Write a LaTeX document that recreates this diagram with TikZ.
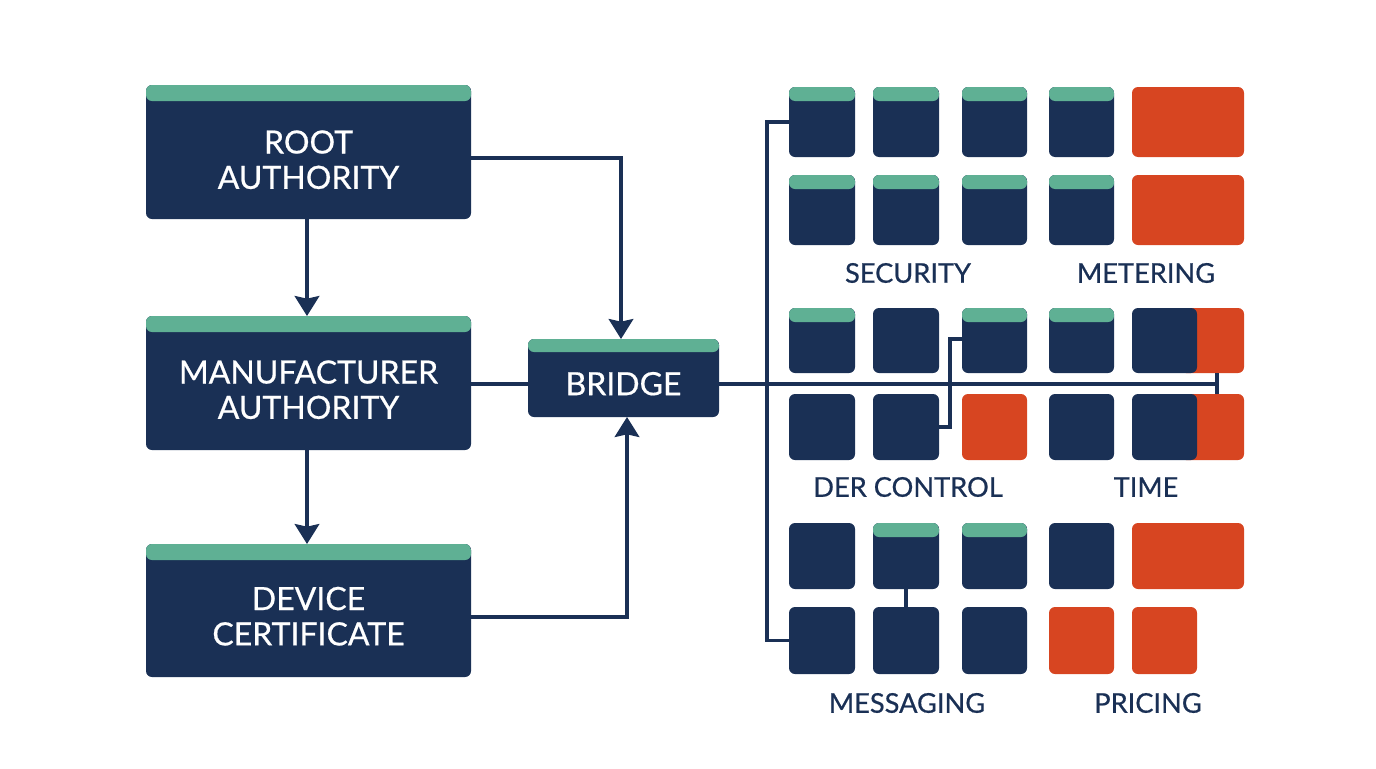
\documentclass[tikz,border=0pt]{standalone}
\usepackage{fontspec}
\setmainfont{Lato}
\newfontfamily\lblf{Lato}[FakeBold=0.6]
\usetikzlibrary{arrows.meta}
\definecolor{navy}{HTML}{1A3055}
\definecolor{mint}{HTML}{5FB094}
\definecolor{rust}{HTML}{D74521}
\tikzset{
  tile/.style={fill=navy,rounded corners=4.5pt,inner sep=0pt,outer sep=0pt,text=white,align=center},
  redtile/.style={tile,fill=rust},
  hdr/.style={path picture={\fill[mint] (path picture bounding box.north west) rectangle ([yshift=-#1*0.75pt]path picture bounding box.north east);}},
  grouplabel/.style={text=navy,font=\lblf\fontsize{20.4pt}{24pt}\selectfont,inner sep=0pt},
  wire/.style={draw=navy,line width=2.4pt},
  arrowwire/.style={wire,-{Stealth[length=15pt,width=18.5pt,inset=2pt]}}
}
\newcommand\gcell[6]{\node[#1,minimum width={(#5-#3)*0.75pt},minimum height={(#6-#4)*0.75pt}] (#2) at ({(#3+#5)/2},{(#4+#6)/2})}
\newcommand\biglbl[2]{{\lblf\fontsize{24pt}{25.5pt}\selectfont\raisebox{#1}[0pt][0pt]{\begin{tabular}{@{}c@{}}#2\end{tabular}}}}
\begin{document}
\begin{tikzpicture}[x=0.75pt,y=-0.75pt]
\useasboundingbox (0,0) rectangle (1376,768);
% main boxes
\gcell{tile,hdr=16}{root}{146}{85}{471}{219} {\biglbl{-15.5pt}{ROOT\\[1pt]AUTHORITY}};
\gcell{tile,hdr=16}{mfg}{146}{316}{471}{450} {\biglbl{-14.75pt}{MANUFACTURER\\[1pt]AUTHORITY}};
\gcell{tile,hdr=16}{dev}{146}{544}{471}{677} {\biglbl{-14pt}{DEVICE\\[1pt]CERTIFICATE}};
\gcell{tile,hdr=13}{bridge}{528}{339}{719}{417} {\biglbl{-14pt}{BRIDGE}};
% grid rows 1-2
\gcell{tile,hdr=14}{a1}{789}{87}{855}{157} {};
\gcell{tile,hdr=14}{a2}{873}{87}{939}{157} {};
\gcell{tile,hdr=14}{a3}{962}{87}{1027}{157} {};
\gcell{tile,hdr=14}{a4}{1049}{87}{1114}{157} {};
\gcell{redtile}{a5}{1132}{87}{1244}{157} {};
\gcell{tile,hdr=14}{b1}{789}{175}{855}{245} {};
\gcell{tile,hdr=14}{b2}{873}{175}{939}{245} {};
\gcell{tile,hdr=14}{b3}{962}{175}{1027}{245} {};
\gcell{tile,hdr=14}{b4}{1049}{175}{1114}{245} {};
\gcell{redtile}{b5}{1132}{175}{1244}{245} {};
% grid rows 3-4
\gcell{tile,hdr=14}{c1}{789}{308}{855}{373} {};
\gcell{tile}{c2}{873}{308}{939}{373} {};
\gcell{tile,hdr=14}{c3}{962}{308}{1027}{373} {};
\gcell{tile,hdr=14}{c4}{1049}{308}{1114}{373} {};
\gcell{redtile}{c6}{1180}{308}{1244}{373} {};
\gcell{tile}{c5}{1132}{308}{1197}{373} {};
\gcell{tile}{d1}{789}{394}{855}{460} {};
\gcell{tile}{d2}{873}{394}{939}{460} {};
\gcell{redtile}{d3}{962}{394}{1027}{460} {};
\gcell{tile}{d4}{1049}{394}{1114}{460} {};
\gcell{redtile}{d6}{1180}{394}{1244}{460} {};
\gcell{tile}{d5}{1132}{394}{1197}{460} {};
% grid rows 5-6
\gcell{tile}{e1}{789}{523}{855}{589} {};
\gcell{tile,hdr=14}{e2}{873}{523}{939}{589} {};
\gcell{tile,hdr=14}{e3}{962}{523}{1027}{589} {};
\gcell{tile}{e4}{1049}{523}{1114}{589} {};
\gcell{redtile}{e5}{1132}{523}{1244}{589} {};
\gcell{tile}{f1}{789}{607}{855}{674} {};
\gcell{tile}{f2}{873}{607}{939}{674} {};
\gcell{tile}{f3}{962}{607}{1027}{674} {};
\gcell{redtile}{f4}{1049}{607}{1114}{674} {};
\gcell{redtile}{f5}{1132}{607}{1197}{674} {};
% group labels
\node[grouplabel] (lsec) at (908,273) {SECURITY};
\node[grouplabel] (lmet) at (1146,273) {METERING};
\node[grouplabel] (lder) at (908,487) {DER CONTROL};
\node[grouplabel] (ltim) at (1146,487) {TIME};
\node[grouplabel] (lmsg) at (907,703) {MESSAGING};
\node[grouplabel] (lpri) at (1148,703) {PRICING};
% helper points
\coordinate (tap) at (1217,384);
\coordinate (trunk) at (767,384);
\coordinate (rootin) at (621,339);
\coordinate (devin) at (627,417);
\coordinate (rootout) at (471,158);
\coordinate (devout) at (471,617);
\coordinate (derR) at (950,427);
\coordinate (derT) at (950,339);
% connectors
\draw[arrowwire] (root.south -| 307,0) -- (mfg.north -| 307,0);
\draw[arrowwire] (mfg.south -| 307,0) -- (dev.north -| 307,0);
\draw[arrowwire] (rootout) -| (rootin);
\draw[arrowwire] (devout) -| (devin);
\draw[wire] (mfg.east |- tap) -- (bridge.west |- tap);
\draw[wire] (bridge.east |- tap) -- (tap);
\draw[wire] (tap |- c6.south) -- (tap |- d6.north);
\draw[wire] (a1.west) -| (trunk) |- (f1.west);
\draw[wire] (d2.east |- derR) -- (derR) -- (derT) -- (c3.west |- derT);
\draw[wire] (e2.south) -- (f2.north);
\end{tikzpicture}
\end{document}
